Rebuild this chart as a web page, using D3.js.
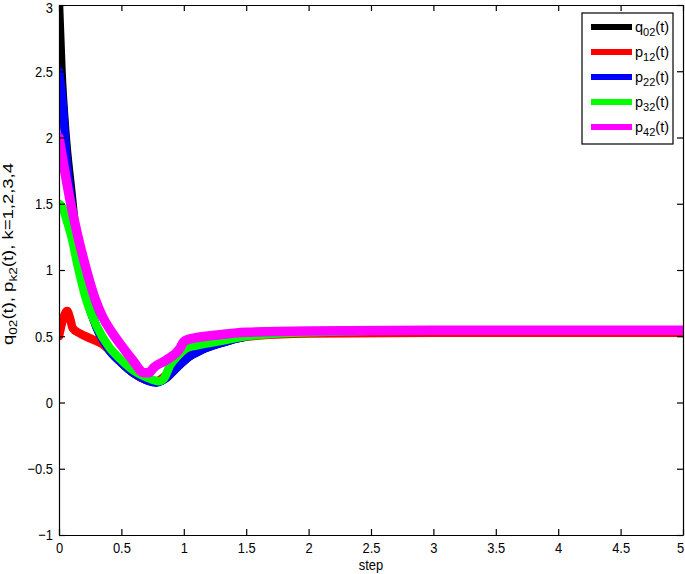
<!DOCTYPE html>
<html>
<head>
<meta charset="utf-8">
<script src="https://cdn.jsdelivr.net/npm/d3@7"></script>
<style>
  body { margin: 0; background: #fff; }
  svg { display: block; font-family: "Liberation Sans", Arial, sans-serif; }
</style>
</head>
<body>
<div id="chart"></div>
<script>
// values, [step, value]
const q02 = [[0, 3], [0.02, 2.5], [0.05, 2.05], [0.1, 1.58], [0.15, 1.14], [0.22, 0.8], [0.3, 0.57],
  [0.4, 0.4], [0.5, 0.3], [0.6, 0.22], [0.7, 0.17], [0.78, 0.155], [0.85, 0.18], [0.95, 0.27],
  [1.05, 0.35], [1.15, 0.4], [1.3, 0.45], [1.5, 0.5], [1.75, 0.525], [2, 0.535], [3, 0.545], [5, 0.545]];
const p12 = [[0, 0.5], [0.03, 0.62], [0.065, 0.69], [0.09, 0.63], [0.11, 0.56], [0.17, 0.52], [0.26, 0.48],
  [0.35, 0.44], [0.4, 0.4], [0.5, 0.3], [0.6, 0.22], [0.7, 0.17], [0.78, 0.16], [0.85, 0.2], [0.95, 0.3],
  [1.05, 0.37], [1.2, 0.43], [1.4, 0.48], [1.6, 0.505], [2, 0.52], [3, 0.527], [4, 0.527], [5, 0.527]];
const p22 = [[0, 2.5], [0.028, 2.28], [0.06, 1.85], [0.1, 1.5], [0.15, 1.12], [0.22, 0.8], [0.3, 0.57],
  [0.4, 0.4], [0.5, 0.3], [0.6, 0.22], [0.7, 0.17], [0.78, 0.15], [0.85, 0.18], [0.95, 0.27],
  [1.05, 0.35], [1.15, 0.4], [1.3, 0.45], [1.5, 0.5], [1.75, 0.525], [2, 0.535], [3, 0.545], [5, 0.545]];
const p32 = [[0, 1.5], [0.03, 1.47], [0.06, 1.38], [0.1, 1.25], [0.15, 1.03], [0.22, 0.77], [0.3, 0.58],
  [0.4, 0.42], [0.5, 0.32], [0.6, 0.24], [0.7, 0.19], [0.8, 0.16], [0.84, 0.18], [0.89, 0.28],
  [0.95, 0.35], [1.02, 0.41], [1.1, 0.43], [1.27, 0.46], [1.5, 0.5], [2, 0.53], [3, 0.545], [5, 0.545]];
const p42 = [[0, 2], [0.04, 1.78], [0.088, 1.53], [0.15, 1.26], [0.22, 1.0], [0.29, 0.78], [0.35, 0.645],
  [0.42, 0.535], [0.5, 0.43], [0.59, 0.32], [0.68, 0.225], [0.72, 0.225], [0.76, 0.265], [0.86, 0.32],
  [0.97, 0.41], [1.0, 0.46], [1.05, 0.48], [1.27, 0.51], [1.5, 0.53], [2, 0.54], [3, 0.545], [5, 0.545]];

const seriesNames = [["q", "02"], ["p", "12"], ["p", "22"], ["p", "32"], ["p", "42"]];
const seriesData = [q02, p12, p22, p32, p42];
const colors = ["#000000", "#ff0000", "#0000ff", "#00ff00", "#ff00ff"];

const xTicks = [0, 0.5, 1, 1.5, 2, 2.5, 3, 3.5, 4, 4.5, 5];
const xTickLabels = ["0", "0.5", "1", "1.5", "2", "2.5", "3", "3.5", "4", "4.5", "5"];
const yTicks = [-1, -0.5, 0, 0.5, 1, 1.5, 2, 2.5, 3];
const yTickLabels = ["\u22121", "\u22120.5", "0", "0.5", "1", "1.5", "2", "2.5", "3"];

const W = 685, H = 574;
const plot = { left: 59, right: 683, top: 5, bottom: 535 };

const svg = d3.select("#chart").append("svg")
  .attr("width", W)
  .attr("height", H);

const x = d3.scaleLinear().domain([0, 5]).range([plot.left, plot.right]);
const y = d3.scaleLinear().domain([-1, 3]).range([plot.bottom, plot.top]);

svg.append("clipPath").attr("id", "clip")
  .append("rect")
  .attr("x", plot.left).attr("y", plot.top)
  .attr("width", plot.right - plot.left).attr("height", plot.bottom - plot.top);

// lines, drawn in legend order so magenta ends on top
const line = d3.line()
  .x(d => x(d[0]))
  .y(d => y(d[1]))
  .curve(d3.curveMonotoneX);

svg.append("g")
  .attr("clip-path", "url(#clip)")
  .selectAll("path")
  .data(seriesData)
  .enter().append("path")
  .attr("d", d => line(d))
  .style("fill", "none")
  .style("stroke", (d, i) => colors[i])
  .style("stroke-width", (d, i) => i === 4 ? 9.5 : 8.5)
  .style("stroke-linejoin", "round")
  .style("stroke-linecap", "round");

// the reference text is a bit narrow, squeeze the horizontal labels
function squeeze(sel, k) {
  sel.each(function () {
    const w = this.getComputedTextLength();
    d3.select(this).attr("textLength", w * k).attr("lengthAdjust", "spacingAndGlyphs");
  });
}

// axes (matlab style box with inward ticks)
const fmtX = (d, i) => xTickLabels[i];
const fmtY = (d, i) => yTickLabels[i];

const axisStyle = g => {
  g.selectAll("path, line").attr("stroke", "#000").attr("stroke-width", 1.2);
  g.selectAll("text").attr("fill", "#000").style("font-size", "15px");
};

const xAxisG = svg.append("g")
  .attr("transform", `translate(0,${plot.bottom})`)
  .call(d3.axisBottom(x).tickValues(xTicks).tickFormat(fmtX).tickSizeInner(-6).tickSizeOuter(0).tickPadding(7))
  .call(axisStyle);
xAxisG.selectAll("text").call(squeeze, 0.86);
xAxisG.selectAll("text").filter(d => d === 5).attr("dx", -3);

svg.append("g")
  .attr("transform", `translate(0,${plot.top})`)
  .call(d3.axisTop(x).tickValues(xTicks).tickFormat("").tickSizeInner(-6).tickSizeOuter(0))
  .call(axisStyle);

const yAxisG = svg.append("g")
  .attr("transform", `translate(${plot.left},0)`)
  .call(d3.axisLeft(y).tickValues(yTicks).tickFormat(fmtY).tickSizeInner(-6).tickSizeOuter(0).tickPadding(6))
  .call(axisStyle);
yAxisG.selectAll("text").call(squeeze, 0.86);
yAxisG.selectAll("text").filter(d => d === 3).attr("y", 3);

svg.append("g")
  .attr("transform", `translate(${plot.right},0)`)
  .call(d3.axisRight(y).tickValues(yTicks).tickFormat("").tickSizeInner(-6).tickSizeOuter(0))
  .call(axisStyle);

// axis titles
svg.append("text")
  .attr("x", (plot.left + plot.right) / 2)
  .attr("y", 570)
  .attr("text-anchor", "middle")
  .style("font-size", "15px")
  .text("step")
  .call(squeeze, 0.86);

const ylab = svg.append("text")
  .attr("transform", "translate(13,254) rotate(-90)")
  .attr("text-anchor", "middle")
  .attr("textLength", 182)
  .attr("lengthAdjust", "spacingAndGlyphs")
  .style("font-size", "15px");
ylab.append("tspan").text("q");
ylab.append("tspan").attr("dy", 4).style("font-size", "11px").text("02");
ylab.append("tspan").attr("dy", -4).text("(t), p");
ylab.append("tspan").attr("dy", 4).style("font-size", "11px").text("k2");
ylab.append("tspan").attr("dy", -4).text("(t), k=1,2,3,4");

// legend
const legend = svg.append("g").attr("transform", "translate(582,13)");
legend.append("rect")
  .attr("width", 91).attr("height", 131)
  .attr("fill", "#fff").attr("stroke", "#000").attr("stroke-width", 1.2);

const item = legend.selectAll("g.item")
  .data(seriesNames)
  .enter().append("g")
  .attr("class", "item")
  .attr("transform", (d, i) => `translate(0,${14 + i * 25})`);

item.append("line")
  .attr("x1", 9).attr("x2", 50)
  .attr("stroke", (d, i) => colors[i])
  .attr("stroke-width", 6);

const lt = item.append("text")
  .attr("x", 53).attr("y", 5)
  .style("font-size", "14.5px");
lt.append("tspan").text(d => d[0]);
lt.append("tspan").attr("dy", 4).style("font-size", "11px").text(d => d[1]);
lt.append("tspan").attr("dy", -4).text("(t)");
</script>
</body>
</html>
